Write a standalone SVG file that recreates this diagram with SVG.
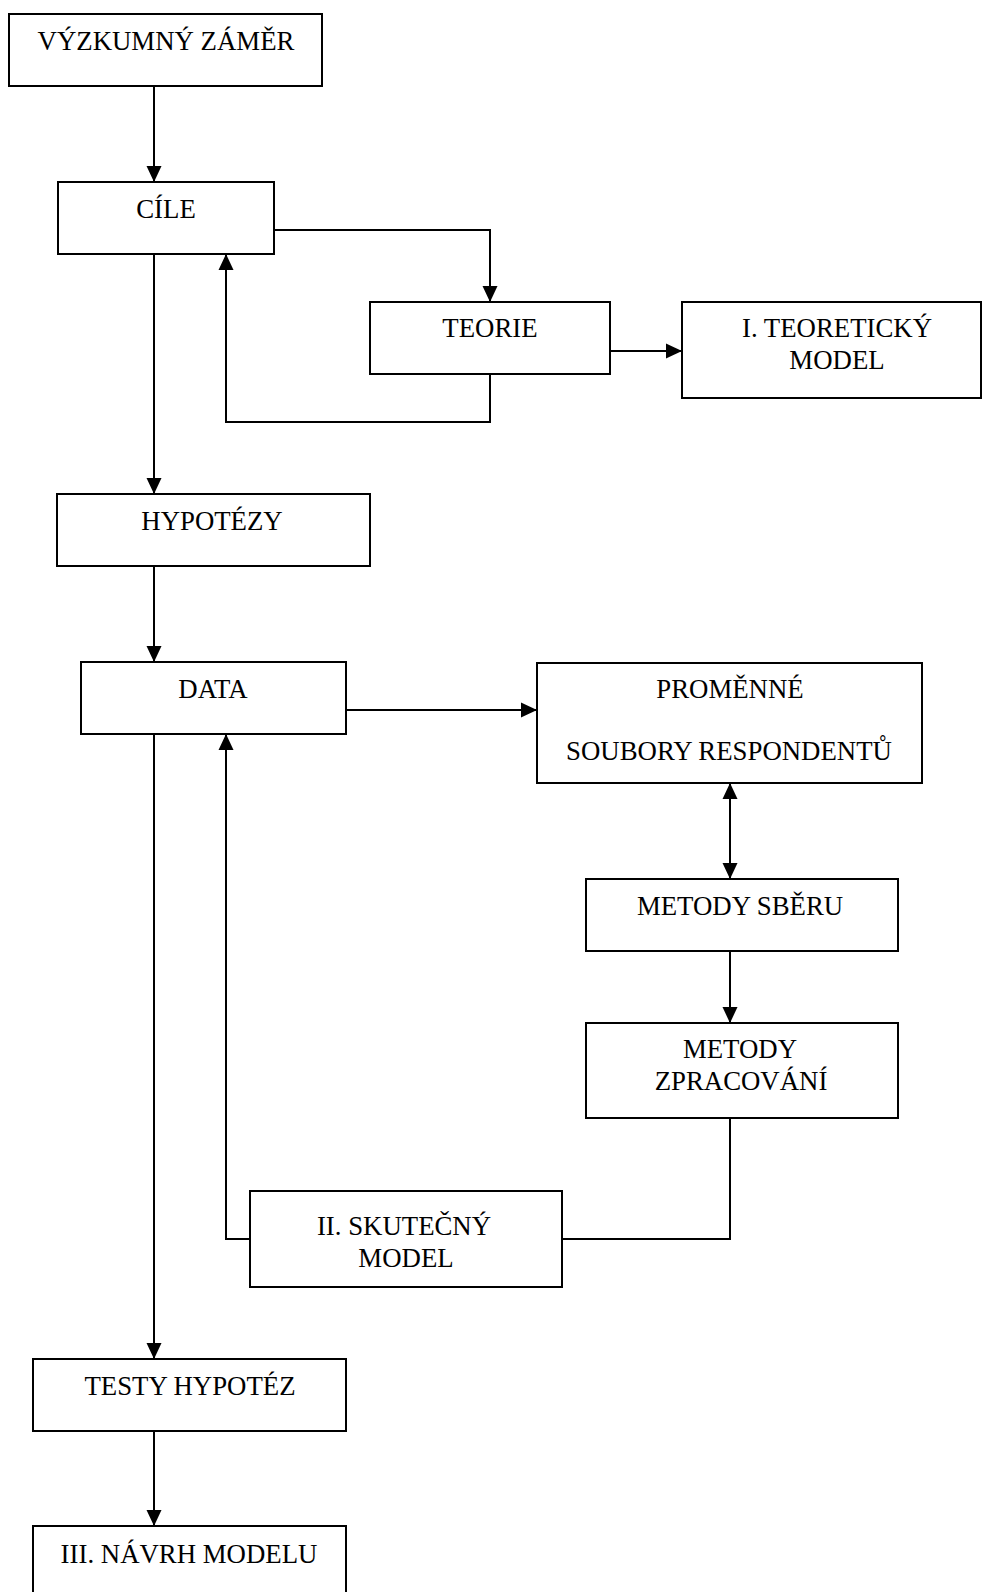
<svg xmlns="http://www.w3.org/2000/svg" width="982" height="1592" viewBox="0 0 982 1592">
  <style>
    .box { fill: #ffffff; stroke: #000000; stroke-width: 2; }
    .lbl { font-family: "Liberation Serif", "Times New Roman", serif; font-size: 26.8px; fill: #000000; text-anchor: middle; }
    .wire { fill: none; stroke: #000000; stroke-width: 2; }
    .arr { marker-end: url(#head); }
    .both { marker-start: url(#tail); marker-end: url(#head); }
  </style>
  <defs>
    <marker id="head" markerUnits="userSpaceOnUse" markerWidth="16" markerHeight="16" refX="16" refY="7.5" orient="auto" viewBox="0 0 16 15">
      <path d="M0,0 L16,7.5 L0,15 Z" fill="#000000"/>
    </marker>
    <marker id="tail" markerUnits="userSpaceOnUse" markerWidth="16" markerHeight="16" refX="0" refY="7.5" orient="auto" viewBox="0 0 16 15">
      <path d="M16,0 L0,7.5 L16,15 Z" fill="#000000"/>
    </marker>
  </defs>
  <rect width="982" height="1592" fill="#ffffff"/>

  <g id="connectors">
    <path class="wire arr" d="M154,86 V182"/>
    <path class="wire arr" d="M274,230 H490 V302"/>
    <path class="wire arr" d="M490,374 V422 H226 V254"/>
    <path class="wire arr" d="M610,351 H682"/>
    <path class="wire arr" d="M154,254 V494"/>
    <path class="wire arr" d="M154,566 V662"/>
    <path class="wire arr" d="M346,710 H537"/>
    <path class="wire both" d="M730,783 V879"/>
    <path class="wire arr" d="M730,951 V1023"/>
    <path class="wire" d="M730,1118 V1239 H562"/>
    <path class="wire arr" d="M250,1239 H226 V734"/>
    <path class="wire arr" d="M154,734 V1359"/>
    <path class="wire arr" d="M154,1431 V1526"/>
  </g>

  <g id="vyzkumny-zamer">
    <rect class="box" x="9" y="14" width="313" height="72"/>
    <text class="lbl" x="166" y="50">VÝZKUMNÝ ZÁMĚR</text>
  </g>
  <g id="cile">
    <rect class="box" x="58" y="182" width="216" height="72"/>
    <text class="lbl" x="166" y="218">CÍLE</text>
  </g>
  <g id="teorie">
    <rect class="box" x="370" y="302" width="240" height="72"/>
    <text class="lbl" x="490" y="337">TEORIE</text>
  </g>
  <g id="teoreticky-model">
    <rect class="box" x="682" y="302" width="299" height="96"/>
    <text class="lbl" x="837" y="337">I. TEORETICKÝ</text>
    <text class="lbl" x="837" y="369">MODEL</text>
  </g>
  <g id="hypotezy">
    <rect class="box" x="57" y="494" width="313" height="72"/>
    <text class="lbl" x="212" y="530">HYPOTÉZY</text>
  </g>
  <g id="data">
    <rect class="box" x="81" y="662" width="265" height="72"/>
    <text class="lbl" x="213" y="698">DATA</text>
  </g>
  <g id="promenne">
    <rect class="box" x="537" y="663" width="385" height="120"/>
    <text class="lbl" x="730" y="698">PROMĚNNÉ</text>
    <text class="lbl" x="729" y="760">SOUBORY RESPONDENTŮ</text>
  </g>
  <g id="metody-sberu">
    <rect class="box" x="586" y="879" width="312" height="72"/>
    <text class="lbl" x="740" y="915">METODY SBĚRU</text>
  </g>
  <g id="metody-zpracovani">
    <rect class="box" x="586" y="1023" width="312" height="95"/>
    <text class="lbl" x="740" y="1058">METODY</text>
    <text class="lbl" x="741" y="1090">ZPRACOVÁNÍ</text>
  </g>
  <g id="skutecny-model">
    <rect class="box" x="250" y="1191" width="312" height="96"/>
    <text class="lbl" x="404" y="1235">II. SKUTEČNÝ</text>
    <text class="lbl" x="406" y="1267">MODEL</text>
  </g>
  <g id="testy-hypotez">
    <rect class="box" x="33" y="1359" width="313" height="72"/>
    <text class="lbl" x="190" y="1395">TESTY HYPOTÉZ</text>
  </g>
  <g id="navrh-modelu">
    <rect class="box" x="33" y="1526" width="313" height="100"/>
    <text class="lbl" x="189" y="1563">III. NÁVRH MODELU</text>
  </g>
</svg>
